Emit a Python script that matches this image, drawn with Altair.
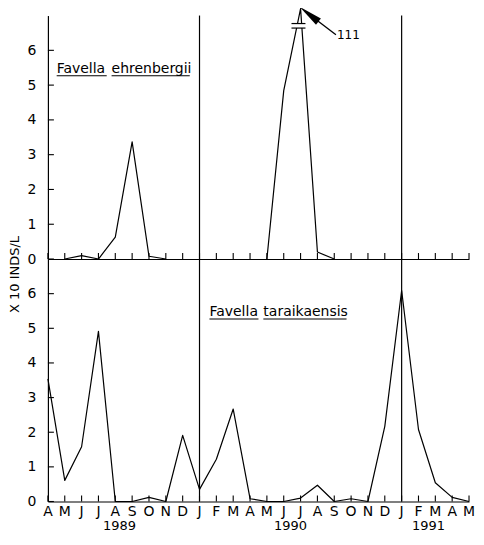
import altair as alt
import pandas as pd

# ---------------- data ----------------
months = ["A", "M", "J", "J", "A", "S", "O", "N", "D", "J", "F", "M",
          "A", "M", "J", "J", "A", "S", "O", "N", "D", "J", "F", "M", "A", "M"]
month_idx = list(range(len(months)))          # Apr 1989 ... May 1991

# Favella ehrenbergii (x10 inds/L), two sampled stretches
ehr_idx = [1, 2, 3, 4, 5, 6, 7, 13, 14, 15, 16, 17]
ehr_val = [0, 0.1, 0, 0.63, 3.37, 0.08, 0, 0, 4.84, 111, 0.2, 0]
ehr_seg = [1, 1, 1, 1, 1, 1, 1, 2, 2, 2, 2, 2]
PEAK_DRAWN = 7.2                                # off-scale value drawn broken

# Favella taraikaensis (x10 inds/L)
tar_val = [3.54, 0.61, 1.58, 4.91, 0, 0, 0.12, 0, 1.91, 0.35, 1.22, 2.67, 0.08,
           0, 0, 0.1, 0.47, 0, 0.08, 0, 2.17, 6.09, 2.08, 0.54, 0.12, 0]

year_labels = ["1989", "1990", "1991"]
year_pos = [4.25, 14.4, 22.6]
jan_idx = [9, 21]
y_ticks = [0, 1, 2, 3, 4, 5, 6]

# species labels: words, start / end (month index) and baseline level
ehr_words = ["Favella", "ehrenbergii"]
ehr_word_x = [0.52, 3.78]
ehr_word_x2 = [3.49, 8.42]
tar_words = ["Favella", "taraikaensis"]
tar_word_x = [9.59, 12.79]
tar_word_x2 = [12.5, 17.73]
label_base = 5.35
label_under = 5.27

# break marks and arrow for the 111 peak
break_x = [14.46, 15.29]
break_y = [6.64, 6.77]
arrow_tail = [17.1, 6.45]
arrow_head = [15.5, 7.04]
peak_label = "111"

# ---------------- styling ----------------
FONT = "DejaVu Sans"
W = 422
H_TOP = 244
H_BOT = 243
TICK = 6
x_scale = alt.Scale(domain=[0, 25], nice=False, zero=False)
y_scale = alt.Scale(domain=[0, 7], nice=False, zero=False)


def X(field):
    return alt.X(field, scale=x_scale)


def Y(field):
    return alt.Y(field, scale=y_scale)


def common_layers(H):
    mdf = pd.DataFrame({"idx": month_idx})
    xt = alt.Chart(mdf).mark_rule(color="black", strokeWidth=1.1).encode(
        x=X("idx:Q"), y=alt.value(H), y2=alt.value(H - TICK))
    ydf = pd.DataFrame({"t": y_ticks})
    yt = alt.Chart(ydf).mark_rule(color="black", strokeWidth=1.1).encode(
        y=Y("t:Q"), x=alt.value(0), x2=alt.value(TICK))
    jdf = pd.DataFrame({"idx": jan_idx})
    jl = alt.Chart(jdf).mark_rule(color="black", strokeWidth=1.2).encode(
        x=X("idx:Q"), y=alt.value(0), y2=alt.value(H))
    return [xt, yt, jl]


def species_label(words, xs, x2s):
    wdf = pd.DataFrame({"w": words, "x": xs, "x2": x2s,
                        "y": [label_base] * len(words),
                        "u": [label_under] * len(words)})
    txt = alt.Chart(wdf).mark_text(align="left", baseline="alphabetic",
                                   font=FONT, fontSize=14, color="black").encode(
        x=X("x:Q"), y=Y("y:Q"), text="w:N")
    und = alt.Chart(wdf).mark_rule(color="black", strokeWidth=1.1).encode(
        x=X("x:Q"), x2="x2:Q", y=Y("u:Q"))
    return [txt, und]


# ---------------- top panel ----------------
edf = pd.DataFrame({"idx": ehr_idx, "val": ehr_val, "seg": ehr_seg})
top_line = alt.Chart(edf).transform_calculate(
    disp="min(datum.val, %s)" % PEAK_DRAWN
).mark_line(color="black", strokeWidth=1.2, strokeJoin="round").encode(
    x=alt.X("idx:Q", scale=x_scale,
            axis=alt.Axis(labels=False, ticks=False, tickSize=0, grid=False,
                          title=None, domain=True)),
    y=alt.Y("disp:Q", scale=y_scale,
            axis=alt.Axis(values=y_ticks, ticks=False, tickSize=0,
                          labelPadding=12, labelFontSize=14, grid=False,
                          title=None, labelFlush=False)),
    detail="seg:N")

bdf = pd.DataFrame({"x": [break_x[0]], "x2": [break_x[1]],
                    "y": [break_y[0]], "y2": [break_y[1]]})
brk_rect = alt.Chart(bdf).mark_rect(color="white").encode(
    x=X("x:Q"), x2="x2:Q", y=Y("y:Q"), y2="y2:Q")
bldf = pd.DataFrame({"x": [break_x[0]] * 2, "x2": [break_x[1]] * 2, "y": break_y})
brk_lines = alt.Chart(bldf).mark_rule(color="black", strokeWidth=1.2).encode(
    x=X("x:Q"), x2="x2:Q", y=Y("y:Q"))

adf = pd.DataFrame({"x": [arrow_tail[0]], "y": [arrow_tail[1]],
                    "x2": [arrow_head[0]], "y2": [arrow_head[1]],
                    "t": [peak_label]})
arrow_line = alt.Chart(adf).mark_rule(color="black", strokeWidth=1.3).encode(
    x=X("x:Q"), x2="x2:Q", y=Y("y:Q"), y2="y2:Q")
arrow_headm = alt.Chart(adf).mark_point(
    shape="M0,-1L0.33,1L-0.33,1Z", filled=True, color="black",
    opacity=1, size=576, angle=308).encode(
    x=X("x2:Q"), y=Y("y2:Q"))
arrow_text = alt.Chart(adf).mark_text(align="left", baseline="middle", dx=1,
                                      font=FONT, fontSize=12, color="black").encode(
    x=X("x:Q"), y=Y("y:Q"), text="t:N")

top = alt.layer(
    top_line, brk_rect, brk_lines, arrow_line, arrow_headm, arrow_text,
    *common_layers(H_TOP),
    *species_label(ehr_words, ehr_word_x, ehr_word_x2)
).properties(width=W, height=H_TOP)

# ---------------- bottom panel ----------------
tdf = pd.DataFrame({"idx": month_idx, "val": tar_val})
bot_line = alt.Chart(tdf).mark_line(color="black", strokeWidth=1.2,
                                    strokeJoin="round").encode(
    x=alt.X("idx:Q", scale=x_scale,
            axis=alt.Axis(labels=False, ticks=False, tickSize=0,
                          grid=False, title=None, domain=True)),
    y=alt.Y("val:Q", scale=y_scale,
            axis=alt.Axis(values=y_ticks, ticks=False, tickSize=0,
                          labelPadding=12, labelFontSize=14, grid=False,
                          labelFlush=False, title="X 10 INDS/L",
                          titleFontSize=13, titleFontWeight="normal",
                          titleFont=FONT, titleAngle=270, titleAlign="center",
                          titleBaseline="middle", titleX=-33, titleY=15)))

mldf = pd.DataFrame({"idx": month_idx, "m": months})
month_text = alt.Chart(mldf).mark_text(baseline="middle", font=FONT, fontSize=14,
                                       color="black").encode(
    x=X("idx:Q"), y=alt.value(H_BOT + 11), text="m:N")

ydf = pd.DataFrame({"x": year_pos, "t": year_labels})
years = alt.Chart(ydf).mark_text(baseline="middle", font=FONT, fontSize=13,
                                 color="black").encode(
    x=X("x:Q"), y=alt.value(H_BOT + 25), text="t:N")

bot = alt.layer(
    bot_line, month_text, years,
    *common_layers(H_BOT),
    *species_label(tar_words, tar_word_x, tar_word_x2)
).properties(width=W, height=H_BOT)

chart = alt.vconcat(top, bot, spacing=0, bounds="flush").properties(
    padding={"left": 0, "top": -2, "right": 0, "bottom": -2}
).configure_view(stroke=None).configure_axis(
    domainColor="black", domainWidth=1.2, labelColor="black", labelFont=FONT,
    titleColor="black", grid=False, ticks=False, labelOverlap=False)

chart.save("out.html", embed_options={"renderer": "svg", "actions": False})
